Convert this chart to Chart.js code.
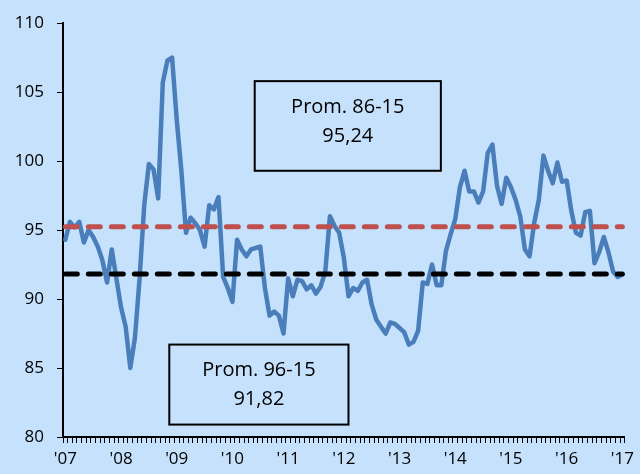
<!DOCTYPE html>
<html>
<head>
<meta charset="utf-8">
<script src="https://cdn.jsdelivr.net/npm/chart.js@4"></script>
<style>
  html, body { margin: 0; padding: 0; background: #C6E1FB; }
  #wrap { width: 640px; height: 474px; position: relative; }
</style>
</head>
<body>
<div id="wrap"><canvas id="grafico"></canvas></div>
<script>
// años del eje (una etiqueta por enero)
const anios = ['07', '08', '09', '10', '11', '12', '13', '14', '15', '16', '17'];

// índice mensual, ene-07 a ene-17
const indice = [
  94.3, 95.6, 95.2, 95.6, 94.1, 95.0, 94.5, 93.8, 92.8, 91.2, 93.6, 91.5,
  89.4, 88.0, 85.0, 87.2, 91.5, 96.8, 99.8, 99.4, 97.3, 105.7, 107.3, 107.5,
  103.0, 99.3, 94.8, 95.9, 95.5, 95.0, 93.8, 96.8, 96.5, 97.4, 91.6, 90.8,
  89.8, 94.3, 93.6, 93.1, 93.6, 93.7, 93.8, 90.8, 88.8, 89.1, 88.8, 87.5,
  91.5, 90.2, 91.4, 91.3, 90.7, 91.0, 90.4, 90.9, 92.0, 96.0, 95.3, 94.8,
  93.0, 90.2, 90.8, 90.6, 91.2, 91.4, 89.6, 88.5, 88.0, 87.5, 88.3, 88.2,
  87.9, 87.6, 86.7, 86.9, 87.7, 91.2, 91.1, 92.5, 91.0, 91.0, 93.5, 94.7,
  95.8, 98.1, 99.3, 97.8, 97.8, 97.0, 97.8, 100.6, 101.2, 98.2, 96.9, 98.8,
  98.1, 97.2, 96.0, 93.6, 93.1, 95.5, 97.2, 100.4, 99.3, 98.4, 99.9, 98.5,
  98.6, 96.4, 94.8, 94.6, 96.3, 96.4, 92.6, 93.4, 94.5, 93.4, 92.0, 91.6,
  91.8
];

// promedios de referencia
const prom8615 = 95.24;
const prom9615 = 91.82;

// categorías mensuales
const meses = [];
anios.forEach((a, k) => {
  const n = k < anios.length - 1 ? 12 : 1;
  for (let m = 1; m <= n; m++) meses.push(m + '-' + a);
});

// recuadros de texto (en unidades de los ejes)
const cajas = [
  { lineas: ['Prom. 86-15', '95,24'], x0: 40.8, x1: 80.9, y0: 105.8, y1: 99.3, yTexto: 103.9 },
  { lineas: ['Prom. 96-15', '91,82'], x0: 22.4, x1: 61.0, y0: 86.7, y1: 80.9, yTexto: 84.8 }
];

const cajasPlugin = {
  id: 'cajas',
  afterDatasetsDraw(chart) {
    const ctx = chart.ctx;
    const xs = chart.scales.x, ys = chart.scales.y;
    ctx.save();
    cajas.forEach(c => {
      const l = xs.getPixelForValue(c.x0), r = xs.getPixelForValue(c.x1);
      const t = ys.getPixelForValue(c.y0), b = ys.getPixelForValue(c.y1);
      ctx.strokeStyle = '#000';
      ctx.lineWidth = 2;
      ctx.strokeRect(l, t, r - l, b - t);
      ctx.fillStyle = '#000';
      ctx.font = '20px "Open Sans"';
      ctx.textAlign = 'center';
      ctx.textBaseline = 'middle';
      const ty = ys.getPixelForValue(c.yTexto);
      c.lineas.forEach((txt, i) => ctx.fillText(txt, (l + r) / 2, ty + i * 29));
    });
    ctx.restore();
  }
};

const ctx = document.getElementById('grafico').getContext('2d');
new Chart(ctx, {
  type: 'line',
  data: {
    labels: meses,
    datasets: [
      {
        data: meses.map(() => prom8615),
        borderColor: '#C0504D',
        borderWidth: 5,
        borderDash: [12, 11],
        borderCapStyle: 'round',
        pointRadius: 0,
        order: 1
      },
      {
        data: meses.map(() => prom9615),
        borderColor: '#000000',
        borderWidth: 5,
        borderDash: [12, 11],
        borderCapStyle: 'round',
        pointRadius: 0,
        order: 0
      },
      {
        data: indice,
        borderColor: '#4A7EBB',
        borderWidth: 4.5,
        borderJoinStyle: 'round',
        borderCapStyle: 'round',
        pointRadius: 0,
        tension: 0,
        order: 2
      }
    ]
  },
  options: {
    responsive: true,
    maintainAspectRatio: false,
    animation: false,
    layout: { padding: { top: 23, right: 12, left: 0, bottom: 0 } },
    plugins: {
      legend: { display: false },
      tooltip: { enabled: false }
    },
    scales: {
      x: {
        type: 'category',
        offset: true,
        afterFit: s => { s.height = 37; },
        grid: {
          offset: true,
          drawOnChartArea: false,
          drawTicks: true,
          tickLength: 6,
          color: '#000'
        },
        border: { display: true, color: '#000', width: 2 },
        ticks: {
          autoSkip: false,
          maxRotation: 0,
          padding: 6,
          color: '#000',
          font: { family: 'Open Sans', size: 17 },
          callback: function (v, i) {
            const lab = meses[i];
            return lab.startsWith('1-') ? "'" + lab.slice(2) : '';
          }
        }
      },
      y: {
        min: 80,
        max: 110,
        afterFit: s => { s.width = 63; },
        grid: {
          drawOnChartArea: false,
          drawTicks: true,
          tickLength: 6,
          color: '#000'
        },
        border: { display: true, color: '#000', width: 2 },
        ticks: {
          stepSize: 5,
          padding: 13,
          color: '#000',
          font: { family: 'Open Sans', size: 17 }
        }
      }
    }
  },
  plugins: [cajasPlugin]
});
</script>
</body>
</html>
